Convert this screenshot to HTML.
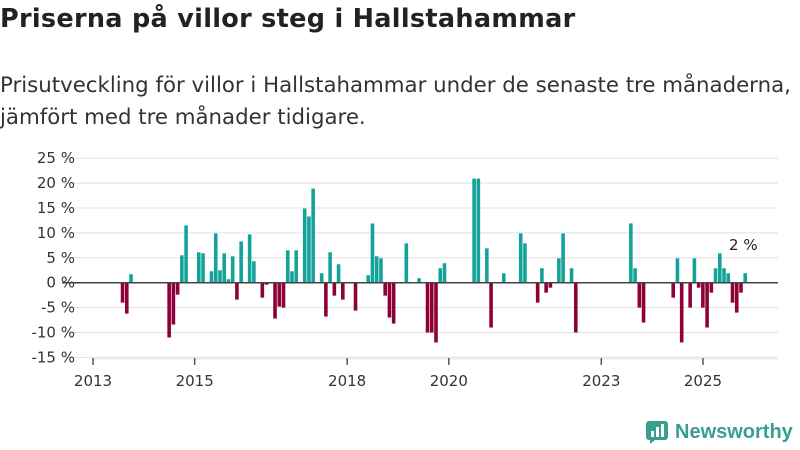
<!DOCTYPE html>
<html><head><meta charset="utf-8"><style>
body{margin:0;width:800px;height:450px;background:#fff;font-family:"DejaVu Sans","Liberation Sans",sans-serif;overflow:hidden;position:relative}
h1{position:absolute;left:0;top:4px;margin:0;font-size:25.5px;font-weight:bold;color:#222;letter-spacing:0.3px}
p{position:absolute;left:0;top:70px;margin:0;font-size:21.3px;line-height:32px;color:#333}
</style></head><body>
<h1>Priserna på villor steg i Hallstahammar</h1>
<p>Prisutveckling för villor i Hallstahammar under de senaste tre månaderna,<br>jämfört med tre månader tidigare.</p>
<svg id="chart" width="800" height="450" style="position:absolute;left:0;top:0"></svg>
<div style="position:absolute;left:645px;top:420px;display:flex;align-items:center;gap:6px;color:#3a9e8f;font-family:'Liberation Sans',sans-serif;font-size:20px;font-weight:bold">
<svg width="24" height="24" viewBox="0 0 24 24"><rect x="1" y="1" width="22" height="19" rx="3" fill="#3a9e8f"/><path d="M5 20 L5 24 L10 20Z" fill="#3a9e8f"/><rect x="6" y="11" width="3" height="6" fill="#fff"/><rect x="11" y="7" width="3" height="10" fill="#fff"/><rect x="16" y="4" width="3" height="13" fill="#fff"/></svg>
<span>Newsworthy</span></div>
<script>
const monthIdx=[7,8,9,18,19,20,21,22,25,26,28,29,30,31,32,33,34,35,37,38,40,41,43,44,45,46,47,48,50,51,52,54,55,56,57,58,59,62,65,66,67,68,69,70,71,74,77,79,80,81,82,83,90,91,93,94,97,101,102,105,106,107,108,110,111,113,114,127,128,129,130,137,138,139,141,142,143,144,145,146,147,148,149,150,151,152,153,154];
const values=[-4,-6.2,1.7,-11,-8.4,-2.4,5.5,11.5,6.1,5.9,2.3,9.9,2.5,5.9,0.7,5.3,-3.4,8.3,9.7,4.3,-3,-0.4,-7.2,-4.8,-5,6.5,2.3,6.5,14.9,13.3,18.9,1.9,-6.8,6.1,-2.6,3.7,-3.4,-5.6,1.5,11.9,5.3,4.9,-2.6,-7,-8.2,7.9,0.9,-10,-10,-12,2.9,3.9,20.9,20.9,6.9,-9,1.9,9.9,7.9,-4,2.9,-2,-1,4.9,9.9,2.9,-10,11.9,2.9,-5,-8,-3,4.9,-12,-5,4.9,-1,-5,-9,-2,2.9,5.9,2.9,1.9,-4,-6,-2,1.9];
const yTicks=[25,20,15,10,5,0,-5,-10,-15];
const xTicks=[2013,2015,2018,2020,2023,2025];
const NS="http://www.w3.org/2000/svg",svg=document.getElementById('chart');
const y=v=>282.7-v*4.98;
const x=yr=>93+(yr-2013)*50.83;
function mk(t,a){const e=document.createElementNS(NS,t);for(const k in a)e.setAttribute(k,a[k]);svg.appendChild(e);return e;}
yTicks.forEach(v=>{
 if(v!==0){const g=mk('line',{x1:62,x2:778,y1:y(v),y2:y(v),stroke:'#e0e0e0','stroke-width':1});
 
 }
 const t=mk('text',{x:75,y:y(v)+5,'text-anchor':'end','font-size':15,fill:'#333'});
 t.textContent=v+' %';
 
 
});
const ax=mk('line',{x1:93,x2:778,y1:359,y2:359,stroke:'#e0e0e0'});


xTicks.forEach(yr=>{
 const l=mk('line',{x1:x(yr),x2:x(yr),y1:358,y2:365,stroke:'#555','stroke-width':1.5});
 
 
 const t=mk('text',{x:x(yr),y:386,'text-anchor':'middle','font-size':15,fill:'#333'});
 t.textContent=yr;
 
 
});
monthIdx.forEach((m,i)=>{
 const v=values[i],cx=x(2013+m/12);
 const r=mk('rect',{x:cx-1.9,width:3.6,y:Math.min(y(v),y(0)),height:Math.abs(y(v)-y(0)),fill:v>=0?'#14a39a':'#8e0038'});
 
 
});
const z=mk('line',{x1:62,x2:778,y1:y(0),y2:y(0),stroke:'#444','stroke-width':1.5});


const last=values[values.length-1];
const lb=mk('text',{x:x(2013+monthIdx[monthIdx.length-1]/12)-2,y:y(last)-23,'text-anchor':'middle','font-size':15,fill:'#222'});
lb.textContent=Math.round(last)+' %';


</script>
</body></html>
